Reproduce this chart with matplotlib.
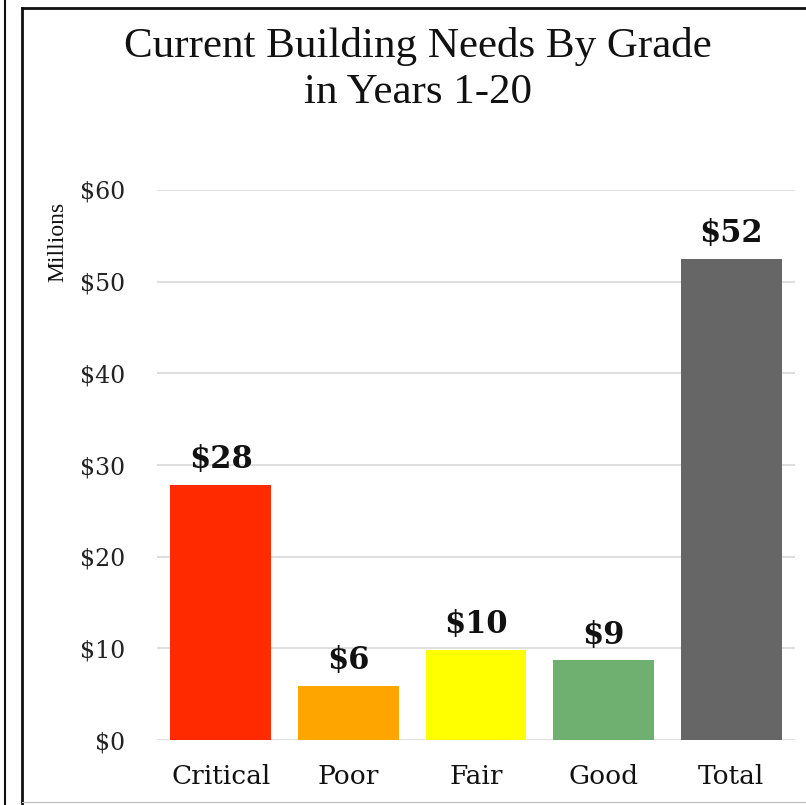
import matplotlib
matplotlib.use("Agg")
import matplotlib.pyplot as plt
from matplotlib.lines import Line2D

categories = ["Critical", "Poor", "Fair", "Good", "Total"]
values = [27.8, 5.9, 9.8, 8.7, 52.5]
value_labels = ["$28", "$6", "$10", "$9", "$52"]
colors = ["#FF2A00", "#FFA500", "#FFFF00", "#6FB070", "#666666"]
yticks = [0, 10, 20, 30, 40, 50, 60]
ytick_labels = ["$0", "$10", "$20", "$30", "$40", "$50", "$60"]

W, H = 806, 805
fig = plt.figure(figsize=(W / 100, H / 100), dpi=100)
serif = ["Liberation Serif", "DejaVu Serif"]
wide = ["DejaVu Serif"]

ax = fig.add_axes([157 / W, 65 / H, 638 / W, 550 / H])
ax.bar(range(len(categories)), values, width=0.79, color=colors, zorder=2)
ax.set_xlim(-0.5, len(categories) - 0.5)
ax.set_ylim(0, 60)
ax.set_yticks(yticks)
ax.set_yticklabels(ytick_labels, fontsize=17, family=wide, color="#222222")
ax.set_xticks(range(len(categories)))
ax.set_xticklabels(categories, fontsize=19, family=wide, color="#111111")
ax.tick_params(axis="both", length=0)
ax.tick_params(axis="y", pad=23)
ax.tick_params(axis="x", pad=17)
for s in ax.spines.values():
    s.set_visible(False)
ax.yaxis.grid(True, color="#d9d9d9", linewidth=1.2, zorder=0)
ax.set_axisbelow(True)

for i, (v, lab) in enumerate(zip(values, value_labels)):
    ax.annotate(lab, (i, v), xytext=(0, 7), textcoords="offset points",
                ha="center", va="bottom", fontsize=22, fontweight="bold",
                family=wide, color="#111111")

fig.text(58 / W, 1 - 242 / H, "Millions", rotation=90, ha="center", va="center",
         fontsize=17, family=serif, color="#111111")

fig.text(418 / W, 1 - 47 / H, "Current Building Needs By Grade", ha="center",
         va="center", fontsize=31, family=serif, color="#111111")
fig.text(418 / W, 1 - 93 / H, "in Years 1-20", ha="center", va="center",
         fontsize=31, family=serif, color="#111111")

def px_line(x0, y0, x1, y1, lw=2.0, color="#111111"):
    fig.add_artist(Line2D([x0 / W, x1 / W], [1 - y0 / H, 1 - y1 / H],
                          transform=fig.transFigure, color=color, linewidth=lw))

px_line(22, 8, W, 8)
px_line(22, 8, 22, H)
px_line(22, 802, W, 802, lw=0.8, color="#bbbbbb")
px_line(5, 0, 5, H, lw=1.5)

fig.savefig("out.png", dpi=100)
